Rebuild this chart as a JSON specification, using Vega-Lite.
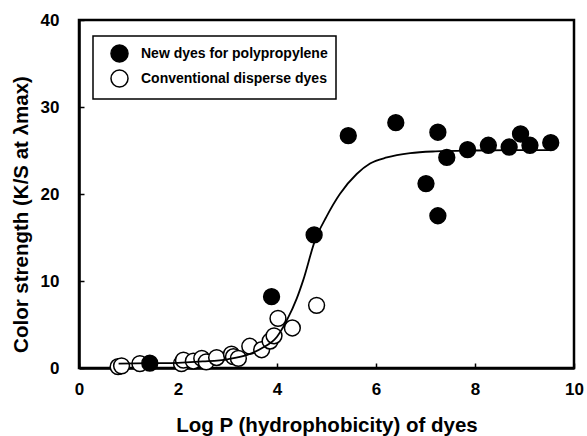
{
  "$schema": "https://vega.github.io/schema/vega-lite/v6.json",
  "width": 495,
  "height": 348,
  "autosize": {"type": "none"},
  "padding": {"left": 79, "top": 20, "right": 13, "bottom": 68},
  "background": "white",
  "config": {
    "view": {"stroke": "black", "strokeWidth": 2.5},
    "font": "Liberation Sans",
    "axis": {
      "grid": false,
      "domainColor": "black",
      "domainWidth": 2.5,
      "tickColor": "black",
      "tickWidth": 1.5,
      "tickSize": -5,
      "labelFlush": false,
      "labelFont": "Liberation Sans",
      "labelFontWeight": "bold",
      "labelFontSize": 17,
      "labelColor": "black",
      "titleFont": "Liberation Sans",
      "titleFontWeight": "bold",
      "titleFontSize": 20.5,
      "titleColor": "black"
    }
  },
  "datasets": {
    "curve": [
      {"x": 0.8, "y": 0.5}, {"x": 1.5, "y": 0.55}, {"x": 2.0, "y": 0.6}, {"x": 2.5, "y": 0.75},
      {"x": 3.0, "y": 1.0}, {"x": 3.4, "y": 1.5}, {"x": 3.7, "y": 2.3}, {"x": 4.0, "y": 3.6},
      {"x": 4.2, "y": 5.5}, {"x": 4.4, "y": 8.0}, {"x": 4.53, "y": 10.1}, {"x": 4.77, "y": 14.7},
      {"x": 5.0, "y": 17.4}, {"x": 5.27, "y": 20.0}, {"x": 5.61, "y": 22.3}, {"x": 5.88, "y": 23.5},
      {"x": 6.22, "y": 24.2}, {"x": 6.69, "y": 24.7}, {"x": 7.2, "y": 24.9}, {"x": 8.0, "y": 25.0},
      {"x": 9.0, "y": 25.05}, {"x": 9.55, "y": 25.05}
    ],
    "points": [
      {"x": 0.79, "y": 0.15, "type": "Conventional disperse dyes"},
      {"x": 0.86, "y": 0.25, "type": "Conventional disperse dyes"},
      {"x": 1.23, "y": 0.5, "type": "Conventional disperse dyes"},
      {"x": 2.07, "y": 0.5, "type": "Conventional disperse dyes"},
      {"x": 2.11, "y": 0.9, "type": "Conventional disperse dyes"},
      {"x": 2.31, "y": 0.8, "type": "Conventional disperse dyes"},
      {"x": 2.48, "y": 1.1, "type": "Conventional disperse dyes"},
      {"x": 2.57, "y": 0.7, "type": "Conventional disperse dyes"},
      {"x": 2.78, "y": 1.2, "type": "Conventional disperse dyes"},
      {"x": 3.08, "y": 1.6, "type": "Conventional disperse dyes"},
      {"x": 3.12, "y": 1.3, "type": "Conventional disperse dyes"},
      {"x": 3.22, "y": 1.1, "type": "Conventional disperse dyes"},
      {"x": 3.45, "y": 2.5, "type": "Conventional disperse dyes"},
      {"x": 3.69, "y": 2.1, "type": "Conventional disperse dyes"},
      {"x": 3.86, "y": 3.1, "type": "Conventional disperse dyes"},
      {"x": 3.94, "y": 3.7, "type": "Conventional disperse dyes"},
      {"x": 4.02, "y": 5.7, "type": "Conventional disperse dyes"},
      {"x": 4.31, "y": 4.6, "type": "Conventional disperse dyes"},
      {"x": 4.80, "y": 7.2, "type": "Conventional disperse dyes"},
      {"x": 1.43, "y": 0.55, "type": "New dyes for polypropylene"},
      {"x": 3.89, "y": 8.2, "type": "New dyes for polypropylene"},
      {"x": 4.75, "y": 15.3, "type": "New dyes for polypropylene"},
      {"x": 5.44, "y": 26.7, "type": "New dyes for polypropylene"},
      {"x": 6.40, "y": 28.2, "type": "New dyes for polypropylene"},
      {"x": 7.01, "y": 21.2, "type": "New dyes for polypropylene"},
      {"x": 7.25, "y": 17.5, "type": "New dyes for polypropylene"},
      {"x": 7.25, "y": 27.1, "type": "New dyes for polypropylene"},
      {"x": 7.43, "y": 24.2, "type": "New dyes for polypropylene"},
      {"x": 7.85, "y": 25.1, "type": "New dyes for polypropylene"},
      {"x": 8.27, "y": 25.6, "type": "New dyes for polypropylene"},
      {"x": 8.69, "y": 25.4, "type": "New dyes for polypropylene"},
      {"x": 8.92, "y": 26.9, "type": "New dyes for polypropylene"},
      {"x": 9.11, "y": 25.6, "type": "New dyes for polypropylene"},
      {"x": 9.53, "y": 25.9, "type": "New dyes for polypropylene"}
    ]
  },
  "layer": [
    {
      "data": {"name": "points"},
      "mark": {"type": "circle", "size": 250, "stroke": "black", "strokeWidth": 1.5, "opacity": 1},
      "encoding": {
        "x": {
          "field": "x", "type": "quantitative",
          "scale": {"domain": [0, 10], "nice": false, "zero": false},
          "axis": {"values": [0, 2, 4, 6, 8, 10], "title": "Log P (hydrophobicity) of dyes", "labelPadding": 18, "titlePadding": 18}
        },
        "y": {
          "field": "y", "type": "quantitative",
          "scale": {"domain": [0, 40], "nice": false, "zero": false},
          "axis": {"values": [0, 10, 20, 30, 40], "title": "Color strength (K/S at λmax)", "labelPadding": 25, "titlePadding": 9, "titleY": 194}
        },
        "fill": {
          "field": "type", "type": "nominal",
          "scale": {"domain": ["New dyes for polypropylene", "Conventional disperse dyes"], "range": ["black", "white"]},
          "legend": {
            "title": null,
            "orient": "none",
            "legendX": 14,
            "legendY": 16,
            "strokeColor": "black",
            "padding": 8,
            "rowPadding": 0,
            "symbolType": "circle",
            "symbolSize": 290,
            "symbolOffset": 9,
            "symbolStrokeColor": "black",
            "symbolStrokeWidth": 1.5,
            "symbolOpacity": 1,
            "labelFont": "Liberation Sans",
            "labelFontWeight": "bold",
            "labelFontSize": 14,
            "labelColor": "black",
            "labelOffset": 12,
            "labelLimit": 400,
            "encode": {"legend": {"update": {"strokeWidth": {"value": 1.5}}}}
          }
        }
      }
    },
    {
      "data": {"name": "curve"},
      "mark": {"type": "line", "color": "black", "strokeWidth": 1.8, "interpolate": "monotone"},
      "encoding": {
        "x": {"field": "x", "type": "quantitative"},
        "y": {"field": "y", "type": "quantitative"}
      }
    }
  ]
}
